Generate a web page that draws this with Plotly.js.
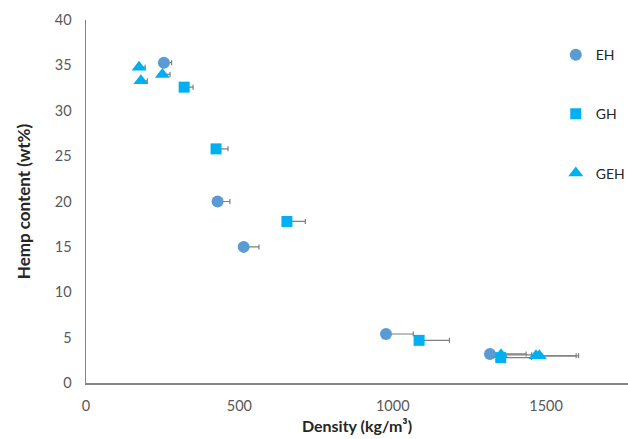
<!DOCTYPE html>
<html>
<head>
<meta charset="utf-8">
<script src="https://cdn.plot.ly/plotly-3.0.1.min.js"></script>
<style>html,body{margin:0;padding:0;background:#fff}#chart{width:628px;height:439px}</style>
</head>
<body>
<div id="chart"></div>
<script>
const seriesNames = ["EH", "GH", "GEH"];

const ehDensity = [254, 429, 514, 978, 1317];
const ehHemp = [35.3, 20.0, 15.0, 5.4, 3.2];
const ehErr = [25, 40, 50, 89, 118];

const ghDensity = [320, 424, 655, 1086, 1352];
const ghHemp = [32.6, 25.8, 17.8, 4.7, 2.8];
const ghErr = [29, 39, 60, 99, 100];

const gehDensity = [173, 179, 249, 1353, 1467, 1478];
const gehHemp = [34.8, 33.3, 34.0, 3.1, 3.0, 3.0];
const gehErr = [20, 21, 25, 100, 131, 128];

const xTicks = [0, 500, 1000, 1500];
const yTicks = [0, 5, 10, 15, 20, 25, 30, 35, 40];

function errBar(arr) {
  return {type: 'data', symmetric: false, array: arr, arrayminus: arr.map(() => 0),
          color: '#7f7f7f', thickness: 1.2, width: 2.5};
}

const traces = [
  {x: ehDensity, y: ehHemp, name: seriesNames[0], legendgroup: 'a', mode: 'markers', type: 'scatter',
   marker: {symbol: 'circle', size: 12, color: '#5B9BD5'}, error_x: errBar(ehErr)},
  {x: ghDensity, y: ghHemp, name: seriesNames[1], legendgroup: 'b', mode: 'markers', type: 'scatter',
   marker: {symbol: 'square', size: 11, color: '#00B0F0'}, error_x: errBar(ghErr)},
  {x: gehDensity, y: gehHemp, name: seriesNames[2], legendgroup: 'c', mode: 'markers', type: 'scatter',
   marker: {symbol: 'triangle-up', size: 13, color: '#00B0F0'}, error_x: errBar(gehErr)}
];

const layout = {
  width: 628, height: 439,
  margin: {l: 86, r: 0, t: 20, b: 56, autoexpand: false},
  paper_bgcolor: '#fff', plot_bgcolor: '#fff',
  font: {family: 'Lato, "Open Sans", sans-serif', size: 14, color: '#595959'},
  showlegend: true,
  legend: {xref: 'container', yref: 'container', x: 0.885, xanchor: 'left', y: 0.911, yanchor: 'top',
           tracegroupgap: 38, font: {size: 14, color: '#262626'}, bgcolor: 'rgba(0,0,0,0)'},
  xaxis: {range: [0, 1767], tickvals: xTicks, ticktext: xTicks.map(String), automargin: false,
          showgrid: false, zeroline: false, showline: true, linecolor: '#868686', linewidth: 1.5,
          ticks: '', ticklen: 0, ticklabelstandoff: 9, tickfont: {size: 14.5, color: '#595959'},
          title: {text: '<b>Density (kg/m³)</b>', font: {size: 16, color: '#262626'}, standoff: 8}},
  yaxis: {range: [0, 40], tickvals: yTicks, ticktext: yTicks.map(String), automargin: false,
          showgrid: false, zeroline: false, showline: true, linecolor: '#868686', linewidth: 1.5,
          ticks: '', ticklen: 0, ticklabelstandoff: 10, tickfont: {size: 14.5, color: '#595959'},
          title: {text: '<b>Hemp content (wt%)</b>', font: {size: 17, color: '#262626'}, standoff: 20}}
};

Plotly.newPlot('chart', traces, layout, {displayModeBar: false, staticPlot: true});
</script>
</body>
</html>
